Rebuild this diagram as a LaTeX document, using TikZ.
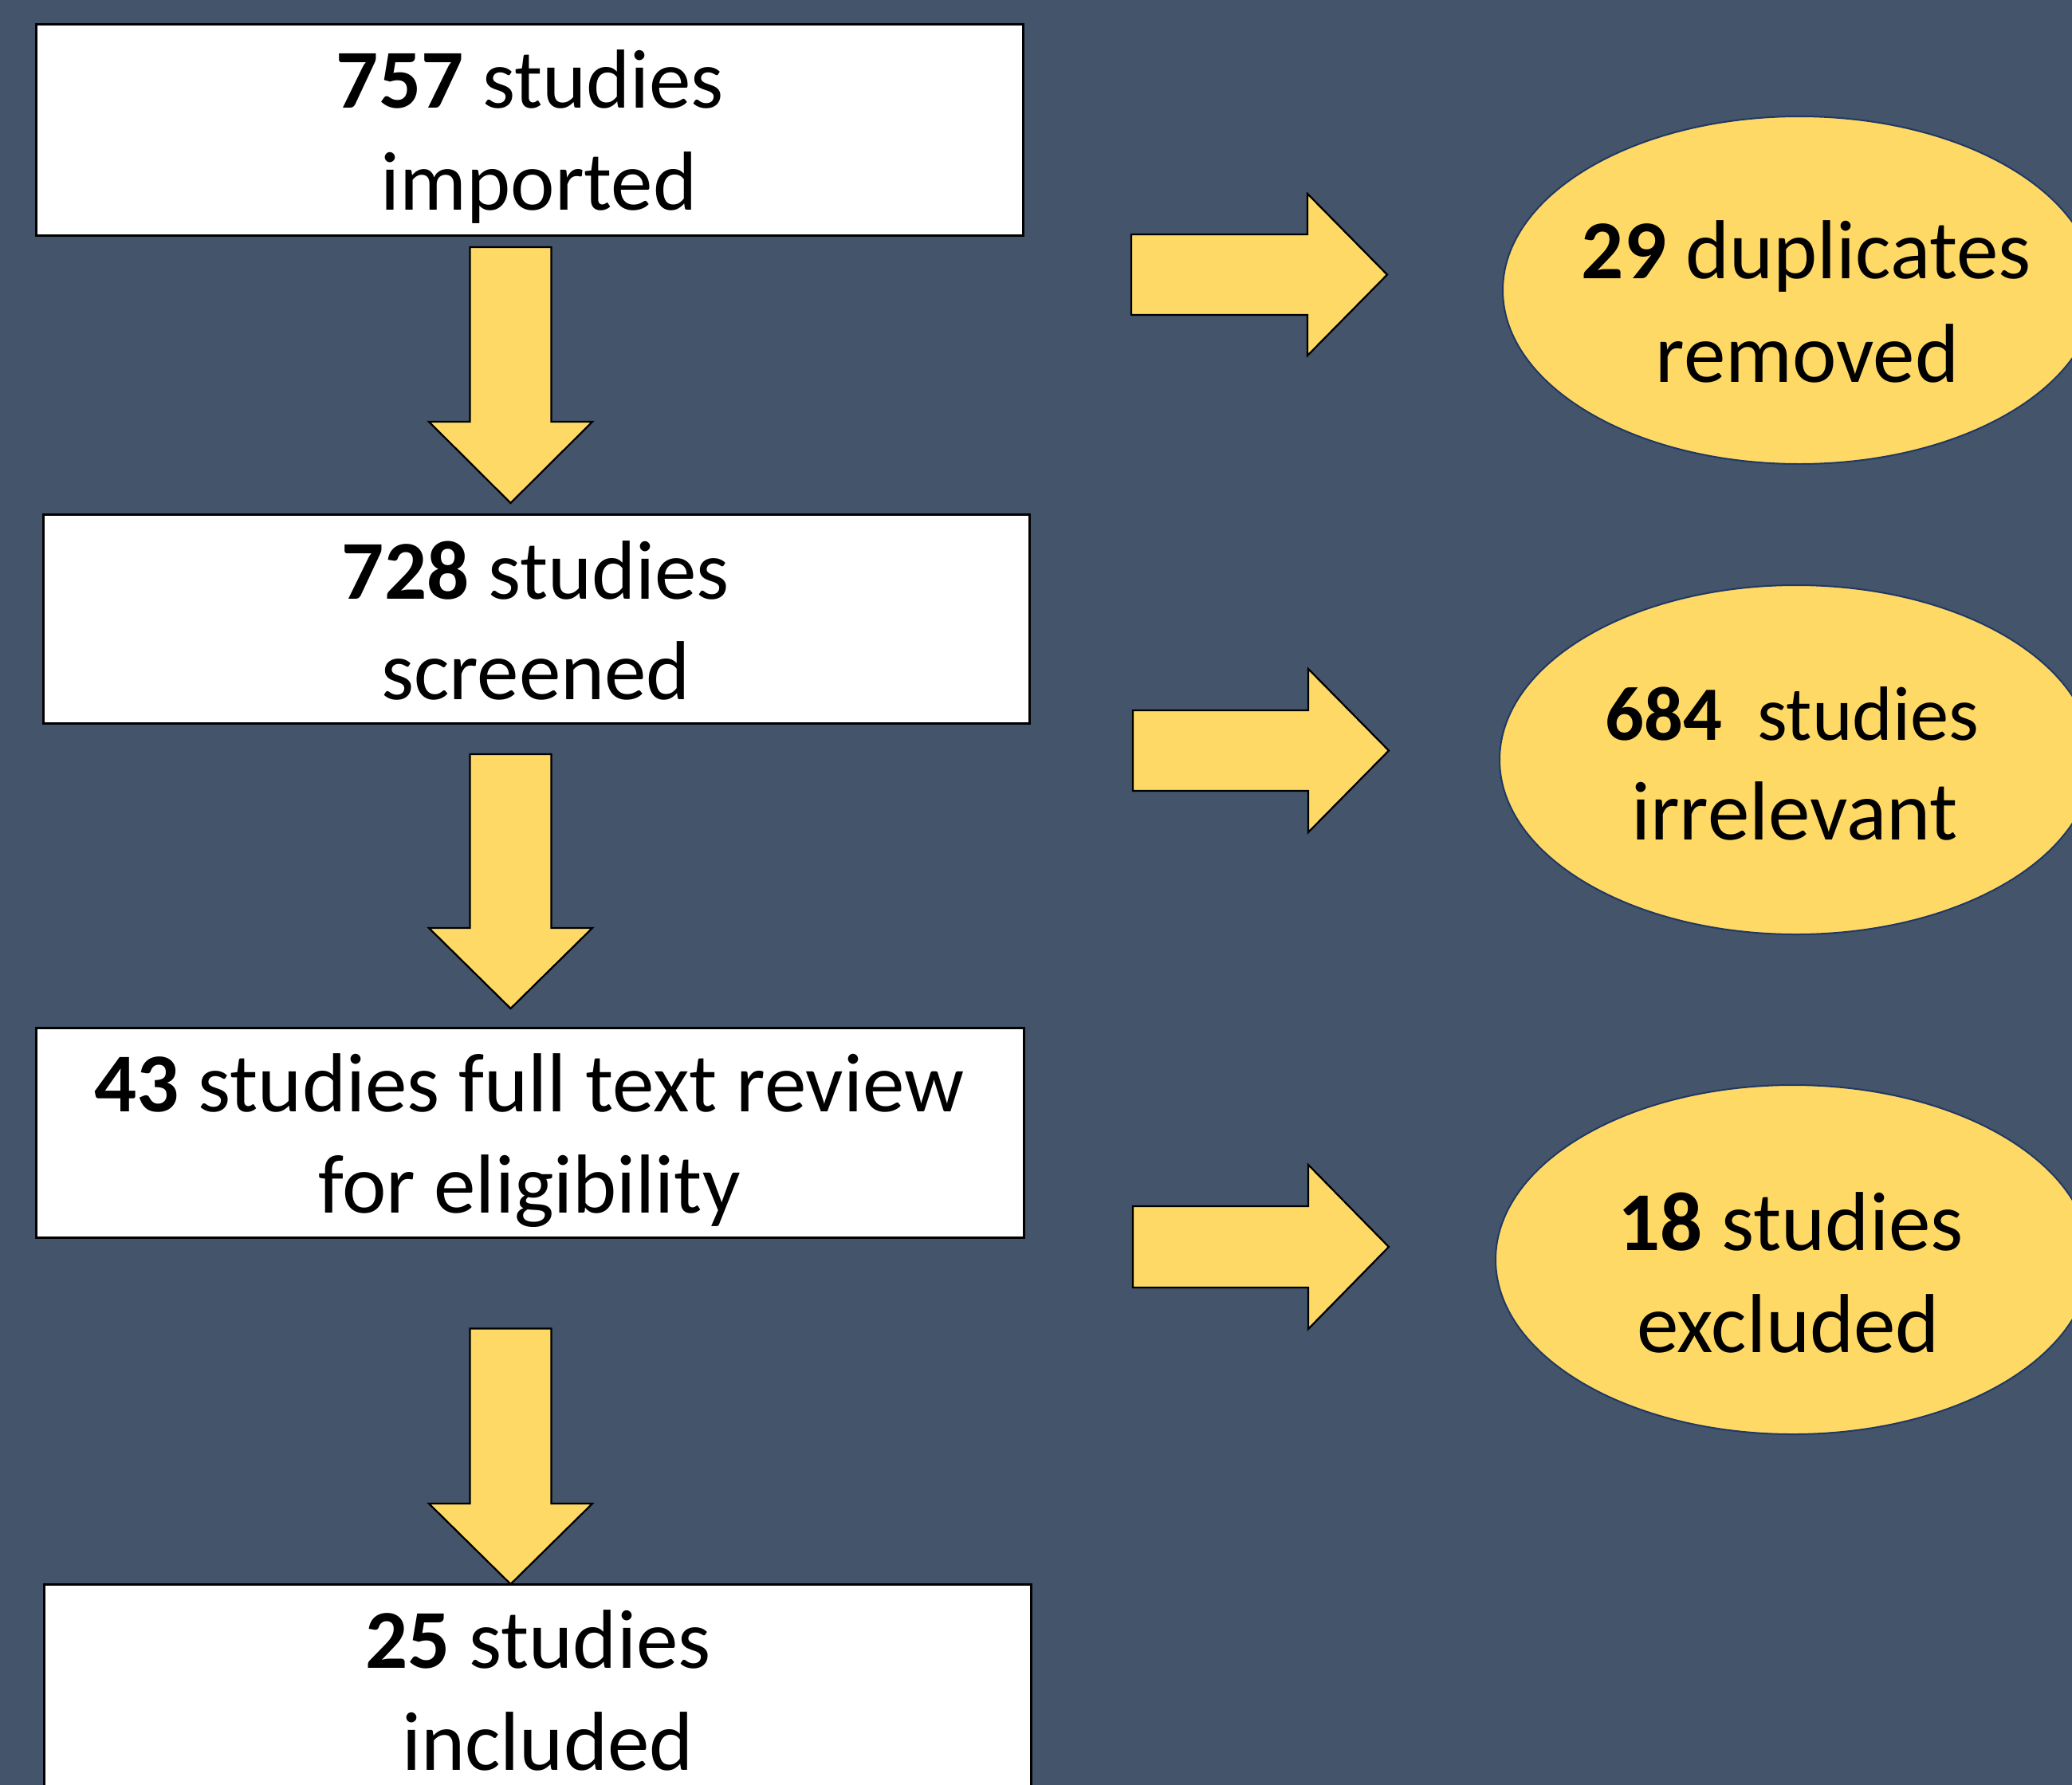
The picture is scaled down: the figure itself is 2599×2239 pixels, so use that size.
\documentclass[tikz,border=0pt]{standalone}
\usepackage{fontspec}
\setmainfont{Carlito}
\usetikzlibrary{shapes.geometric}
\definecolor{bgc}{HTML}{44546A}
\definecolor{gold}{HTML}{FFD966}
\definecolor{navy}{HTML}{203864}
\tikzset{
  boxnode/.style={draw=black, line width=0.6pt, fill=white, rectangle, inner sep=0pt},
  ovalnode/.style={draw=navy, line width=0.4pt, fill=gold, ellipse, inner sep=0pt},
  blockarrow/.style={draw=black, line width=0.45pt, fill=gold, line join=miter},
  txt/.style={anchor=base, inner sep=0pt, font=\fontsize{21}{25.6}\selectfont, text=black},
  smalltxt/.style={txt, font=\fontsize{19.3}{23.5}\selectfont}
}
\begin{document}
\begin{tikzpicture}[x=0.2pt,y=-0.2pt]
\useasboundingbox (0,0) rectangle (2599,2239);
\fill[bgc] (0,0) rectangle (2599,2239);
\clip (0,0) rectangle (2599,2239);

% boxes
\node[boxnode, minimum width=247.4pt, minimum height=52.8pt] (b1) at (664.5,163) {};
\node[boxnode, minimum width=247.2pt, minimum height=52.4pt] (b2) at (673,776) {};
\node[boxnode, minimum width=247.6pt, minimum height=52.6pt] (b3) at (665,1421) {};
\node[boxnode, minimum width=247.4pt, minimum height=52.6pt] (b4) at (674.5,2118.5) {};

\node[txt] (t1a) at (665,135) {\textbf{757} studies};
\node[txt] (t1b) at (676,263) {imported};
\node[txt] (t2a) at (672,751) {\textbf{728} studies};
\node[txt] (t2b) at (672,877) {screened};
\node[txt] (t3a) at (664,1394.5) {\textbf{43} studies full text review};
\node[txt] (t3b) at (664,1521) {for eligibility};
\node[txt] (t4a) at (675,2092) {\textbf{25} studies};
\node[txt] (t4b) at (687,2220) {included};

% ellipses
\node[ovalnode, minimum width=148.8pt, minimum height=87.2pt] (e1) at (2257,364) {};
\node[ovalnode, minimum width=148.8pt, minimum height=87.6pt] (e2) at (2253,953) {};
\node[ovalnode, minimum width=149.2pt, minimum height=87.6pt] (e3) at (2249,1580) {};

\node[txt] (u1a) at (2266,349) {\textbf{29} duplicates};
\node[txt] (u1b) at (2267,479) {removed};
\node[smalltxt] (u2a) at (2248,928) {\textbf{684}\ \ studies};
\node[txt] (u2b) at (2251,1053) {irrelevant};
\node[txt] (u3a) at (2246,1568) {\textbf{18} studies};
\node[txt] (u3b) at (2243,1696) {excluded};

% down arrows
\draw[blockarrow] (589.5,310) -- (691.5,310) -- (691.5,529) -- (743,529) -- (640.5,631) -- (538,529) -- (589.5,529) -- cycle;
\draw[blockarrow] (589.5,946) -- (691.5,946) -- (691.5,1164) -- (743,1164) -- (640.5,1265) -- (538,1164) -- (589.5,1164) -- cycle;
\draw[blockarrow] (589.5,1666.5) -- (691.5,1666.5) -- (691.5,1886) -- (743,1886) -- (640.5,1987) -- (538,1886) -- (589.5,1886) -- cycle;

% right arrows
\draw[blockarrow] (1419,294) -- (1640,294) -- (1640,243) -- (1740,344.5) -- (1640,446) -- (1640,395) -- (1419,395) -- cycle;
\draw[blockarrow] (1421,891) -- (1641,891) -- (1641,839) -- (1742,941.5) -- (1641,1044) -- (1641,992) -- (1421,992) -- cycle;
\draw[blockarrow] (1421,1513) -- (1641,1513) -- (1641,1461) -- (1742,1564) -- (1641,1667) -- (1641,1615) -- (1421,1615) -- cycle;
\end{tikzpicture}
\end{document}
